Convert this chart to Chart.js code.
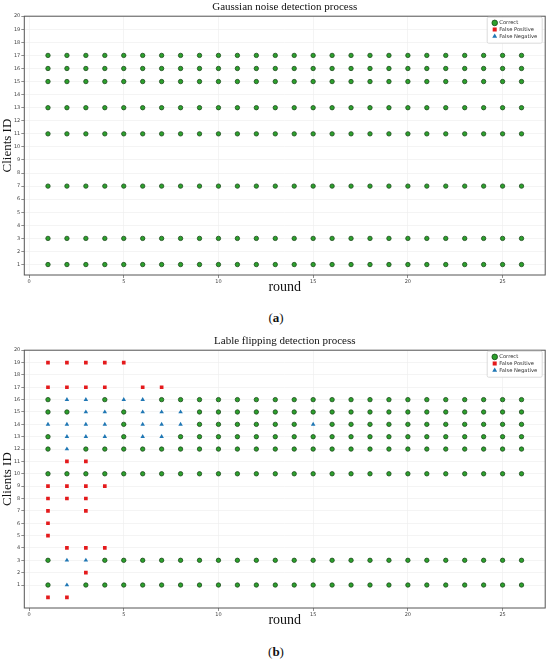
<!DOCTYPE html>
<html>
<head>
<meta charset="utf-8">
<script src="https://cdn.jsdelivr.net/npm/chart.js@4.4.1/dist/chart.umd.min.js"></script>
<style>
	body { margin: 0; width: 550px; height: 660px; background: #fff; position: relative; overflow: hidden; }
	.caja { position: absolute; left: 0; width: 550px; }
	.pie { position: absolute; left: 0; width: 552px; text-align: center; font-family: "Liberation Serif", serif; font-size: 13px; color: #111; }
</style>
</head>
<body>
<div class="caja" style="top:0;height:297px"><canvas id="grafico1"></canvas></div>
<div class="pie" style="top:310px">(<b>a</b>)</div>
<div class="caja" style="top:334px;height:296px"><canvas id="grafico2"></canvas></div>
<div class="pie" style="top:644px">(<b>b</b>)</div>
<script>
const rounds = [1, 2, 3, 4, 5, 6, 7, 8, 9, 10, 11, 12, 13, 14, 15, 16, 17, 18, 19, 20, 21, 22, 23, 24, 25, 26];
const xTicks = [0, 5, 10, 15, 20, 25];
const yTicks = [1, 2, 3, 4, 5, 6, 7, 8, 9, 10, 11, 12, 13, 14, 15, 16, 17, 18, 19, 20];

// Gaussian noise: the same clients are detected correctly in every round
const gnClients = [1, 3, 7, 11, 13, 15, 16, 17];

// Label flipping: one list of client IDs per round
const lfCorrect = [
	[16, 15, 13, 12, 10, 3, 1],
	[15, 10],
	[12, 10, 1],
	[16, 12, 10, 3, 1],
	[15, 14, 13, 12, 10, 3, 1],
	[12, 10, 3, 1],
	[16, 12, 10, 3, 1],
	[16, 13, 12, 10, 3, 1],
	[16, 15, 14, 13, 12, 10, 3, 1],
	[16, 15, 14, 13, 12, 10, 3, 1],
	[16, 15, 14, 13, 12, 10, 3, 1],
	[16, 15, 14, 13, 12, 10, 3, 1],
	[16, 15, 14, 13, 12, 10, 3, 1],
	[16, 15, 14, 13, 12, 10, 3, 1],
	[16, 15, 13, 12, 10, 3, 1],
	[16, 15, 14, 13, 12, 10, 3, 1],
	[16, 15, 14, 13, 12, 10, 3, 1],
	[16, 15, 14, 13, 12, 10, 3, 1],
	[16, 15, 14, 13, 12, 10, 3, 1],
	[16, 15, 14, 13, 12, 10, 3, 1],
	[16, 15, 14, 13, 12, 10, 3, 1],
	[16, 15, 14, 13, 12, 10, 3, 1],
	[16, 15, 14, 13, 12, 10, 3, 1],
	[16, 15, 14, 13, 12, 10, 3, 1],
	[16, 15, 14, 13, 12, 10, 3, 1],
	[16, 15, 14, 13, 12, 10, 3, 1],
];
const lfFalsePos = [
	[19, 17, 9, 8, 7, 6, 5, 0],
	[19, 17, 11, 9, 8, 4, 0],
	[19, 17, 11, 9, 8, 7, 4, 2],
	[19, 17, 9, 4],
	[19],
	[17],
	[17],
];
const lfFalseNeg = [
	[14],
	[16, 14, 13, 12, 3, 1],
	[16, 15, 14, 13, 3],
	[15, 14, 13],
	[16],
	[16, 15, 14, 13],
	[15, 14, 13],
	[15, 14],
	[], [], [], [], [], [],
	[14],
];

// list of IDs per round -> scatter points
const puntos = (porRonda) =>
	porRonda.flatMap((ids, i) => ids.map((id) => ({ x: rounds[i], y: id })));

const gnPuntos = rounds.flatMap((r) => gnClients.map((id) => ({ x: r, y: id })));

Chart.defaults.font.family = "DejaVu Sans";

// frame around the plot and matplotlib-like legend box
const marco = {
	id: "marco",
	afterLayout(chart) {
		const a = chart.chartArea;
		const l = chart.legend;
		const caja = { x: a.right - 3 - 55, y: a.top + 1, w: 55, h: 26 };
		chart.$caja = caja;
		l.left = caja.x + 4;
		l.top = caja.y + 1.6;
		l.right = l.left + l.width;
		l.bottom = l.top + l.height;
	},
	afterDraw(chart) {
		const ctx = chart.ctx;
		const a = chart.chartArea;
		const c = chart.$caja;
		ctx.save();
		ctx.strokeStyle = "#555";
		ctx.lineWidth = 1;
		ctx.strokeRect(a.left, a.top, a.right - a.left, a.bottom - a.top);
		ctx.fillStyle = "rgba(255,255,255,0.95)";
		ctx.strokeStyle = "#d2d2d2";
		ctx.lineWidth = 0.8;
		ctx.beginPath();
		ctx.roundRect(c.x, c.y, c.w, c.h, 1.5);
		ctx.fill();
		ctx.stroke();
		ctx.restore();
		chart.legend.draw();
	},
};

const series = (correct, fp, fn) => [
	{
		label: "Correct",
		data: correct,
		pointStyle: "circle",
		pointRadius: 2.2,
		backgroundColor: "#2ca02c",
		borderColor: "#1d4a1d",
		borderWidth: 0.8,
	},
	{
		label: "False Positive",
		data: fp,
		pointStyle: "rect",
		pointRadius: 2.6,
		backgroundColor: "#e41a1c",
		borderColor: "#e41a1c",
		borderWidth: 0,
	},
	{
		label: "False Negative",
		data: fn,
		pointStyle: "triangle",
		pointRadius: 2.6,
		backgroundColor: "#1f77b4",
		borderColor: "#1f77b4",
		borderWidth: 0,
	},
];

const opciones = (titulo, yMin) => ({
	responsive: true,
	maintainAspectRatio: false,
	animation: false,
	events: [],
	layout: { padding: { left: 0, right: 4, top: 0, bottom: 0 } },
	plugins: {
		tooltip: { enabled: false },
		title: {
			display: true,
			text: titulo,
			fullSize: false,
			color: "#111",
			font: { family: "Liberation Serif", size: 11, weight: "normal" },
			padding: { top: 1, bottom: 2 },
		},
		legend: {
			position: "chartArea",
			align: "start",
			labels: {
				usePointStyle: true,
				boxWidth: 4,
				boxHeight: 4,
				padding: 1.5,
				color: "#333",
				font: { size: 5.2, lineHeight: 1.1 },
			},
		},
	},
	scales: {
		x: {
			type: "linear",
			min: -0.25,
			max: 27.25,
			afterBuildTicks: (s) => { s.ticks = xTicks.map((v) => ({ value: v })); },
			afterFit: (s) => { s.height = 22; },
			border: { display: false },
			grid: { color: "#ececec", lineWidth: 0.6, tickLength: 3, tickColor: "#444", tickWidth: 0.6 },
			ticks: { padding: 1, color: "#444", font: { size: 5 } },
			title: {
				display: true,
				text: "round",
				color: "#111",
				font: { family: "Liberation Serif", size: 14 },
				padding: { top: 0, bottom: 0.9 },
			},
		},
		y: {
			type: "linear",
			min: yMin,
			max: 20,
			afterBuildTicks: (s) => { s.ticks = yTicks.map((v) => ({ value: v })); },
			afterFit: (s) => { s.width = 24.3; },
			border: { display: false },
			grid: { color: "#ececec", lineWidth: 0.6, tickLength: 3, tickColor: "#444", tickWidth: 0.6 },
			ticks: { padding: 1, color: "#444", font: { size: 5 } },
			title: {
				display: true,
				text: "Clients ID",
				color: "#111",
				font: { family: "Liberation Serif", size: 13 },
				padding: 0,
			},
		},
	},
});

new Chart(document.getElementById("grafico1"), {
	type: "scatter",
	data: { datasets: series(gnPuntos, [], []) },
	options: opciones("Gaussian noise detection process", 0.2),
	plugins: [marco],
});

new Chart(document.getElementById("grafico2"), {
	type: "scatter",
	data: { datasets: series(puntos(lfCorrect), puntos(lfFalsePos), puntos(lfFalseNeg)) },
	options: opciones("Lable flipping detection process", -0.86),
	plugins: [marco],
});
</script>
</body>
</html>
